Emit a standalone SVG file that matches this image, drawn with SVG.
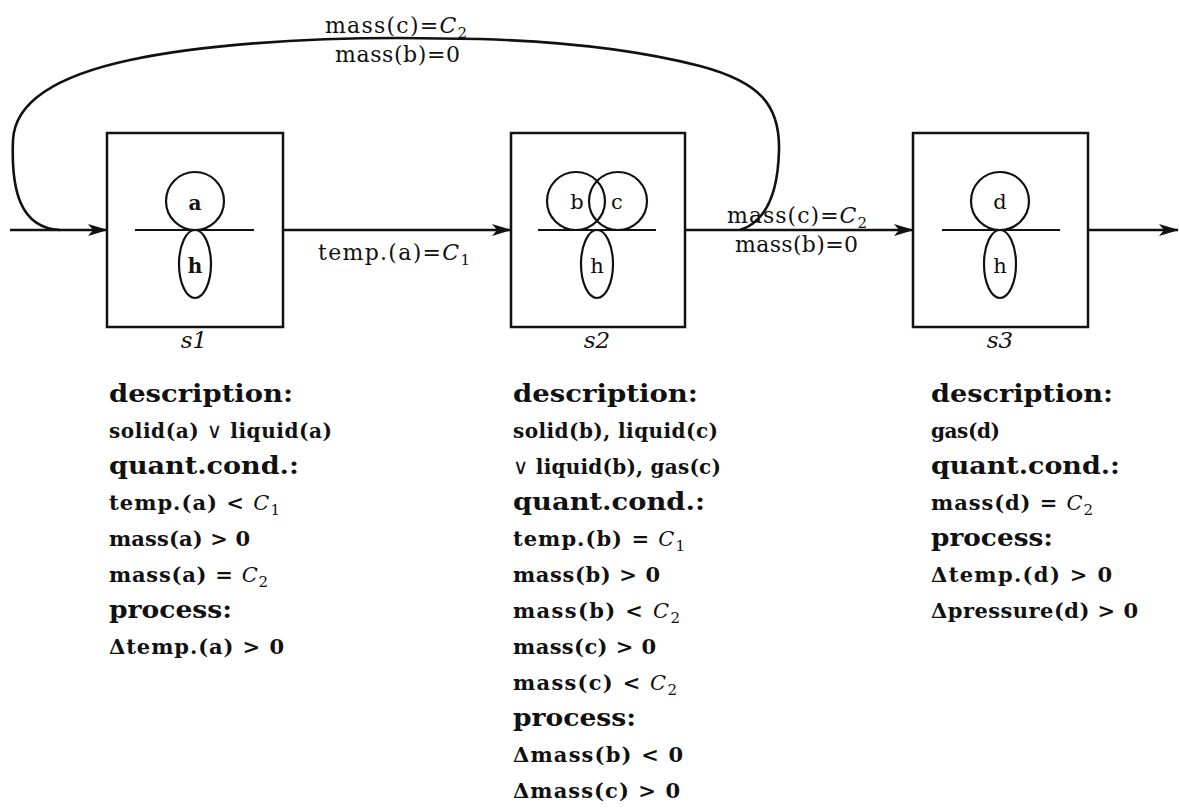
<svg xmlns="http://www.w3.org/2000/svg" width="1180" height="809" viewBox="0 0 1180 809">
<defs>
<marker id="arr" viewBox="0 0 20 12" refX="19" refY="6" markerWidth="20" markerHeight="12" markerUnits="userSpaceOnUse" orient="auto">
<path d="M0,0 L20,6 L0,12 L5,6 Z" fill="#111"/>
</marker>
<style>
.box{fill:none;stroke:#111;stroke-width:2.5}
.ln{fill:none;stroke:#111;stroke-width:2.6}
.sh{fill:none;stroke:#111;stroke-width:2.2}
.t{font-family:"DejaVu Serif","Liberation Serif",serif;fill:#111}
.lb{font-size:20px;font-weight:bold}
.lr{font-size:21px}
.sl{font-size:23px;font-style:italic}
.el{font-size:22px}
.hd{font-size:24px;font-weight:bold}
.ds{font-size:20px;font-weight:bold}
.cd{font-size:21px;font-weight:bold}
.c{font-style:italic;font-weight:normal}
.or{font-weight:normal;font-size:21px}
.sub{font-size:15px;font-weight:normal}
</style>
</defs>
<rect width="1180" height="809" fill="#fff"/>

<g id="connectors">
<line class="ln" x1="10" y1="230" x2="107" y2="230" marker-end="url(#arr)"/>
<line class="ln" x1="283" y1="230" x2="511" y2="230" marker-end="url(#arr)"/>
<line class="ln" x1="685" y1="230" x2="913" y2="230" marker-end="url(#arr)"/>
<line class="ln" x1="1088" y1="230" x2="1178" y2="230" marker-end="url(#arr)"/>
<path class="ln" d="M 740 230 C 765 222 778 195 779 150 C 780 105 760 82 700 66 C 650 53 580 42 480 39 L 400 38 C 300 38 200 45 130 60 C 60 75 15 100 13 140 C 11 190 20 228 60 230"/>
<text class="t el" x="325" y="33" textLength="142" lengthAdjust="spacing">mass(c)=<tspan class="c">C</tspan><tspan class="sub" dy="5">2</tspan></text>
<text class="t el" x="335" y="62" textLength="125" lengthAdjust="spacing">mass(b)=0</text>
<text class="t el" x="318" y="260" textLength="152" lengthAdjust="spacing">temp.(a)=<tspan class="c">C</tspan><tspan class="sub" dy="5">1</tspan></text>
<text class="t el" x="727" y="223" textLength="140" lengthAdjust="spacing">mass(c)=<tspan class="c">C</tspan><tspan class="sub" dy="5">2</tspan></text>
<text class="t el" x="735" y="252" textLength="123" lengthAdjust="spacing">mass(b)=0</text>
</g>

<g id="s1">
<rect class="box" x="107" y="133" width="176" height="194"/>
<line class="sh" x1="135" y1="230" x2="254" y2="230"/>
<circle class="sh" cx="195" cy="201" r="29"/>
<ellipse class="sh" cx="195" cy="264" rx="16" ry="34"/>
<text class="t lb" x="195" y="210" text-anchor="middle">a</text>
<text class="t lb" x="195" y="273" text-anchor="middle">h</text>
<text class="t sl" x="194" y="348" text-anchor="middle">s1</text>
</g>

<g id="s2">
<rect class="box" x="511" y="133" width="174" height="194"/>
<line class="sh" x1="538" y1="230" x2="656" y2="230"/>
<circle class="sh" cx="576" cy="201" r="29"/>
<circle class="sh" cx="618" cy="201" r="29"/>
<ellipse class="sh" cx="597" cy="264" rx="16" ry="34"/>
<text class="t lr" x="577" y="209" text-anchor="middle">b</text>
<text class="t lr" x="617" y="209" text-anchor="middle">c</text>
<text class="t lr" x="597" y="273" text-anchor="middle">h</text>
<text class="t sl" x="597" y="348" text-anchor="middle">s2</text>
</g>

<g id="s3">
<rect class="box" x="913" y="133" width="175" height="194"/>
<line class="sh" x1="942" y1="230" x2="1060" y2="230"/>
<circle class="sh" cx="1000" cy="201" r="29"/>
<ellipse class="sh" cx="1000" cy="264" rx="16" ry="34"/>
<text class="t lr" x="1000" y="209" text-anchor="middle">d</text>
<text class="t lr" x="1000" y="273" text-anchor="middle">h</text>
<text class="t sl" x="1000" y="348" text-anchor="middle">s3</text>
</g>

<g id="desc1">
<text class="t hd" x="109" y="402" textLength="184" lengthAdjust="spacingAndGlyphs">description:</text>
<text class="t ds" x="109" y="438" textLength="223" lengthAdjust="spacing">solid(a) <tspan class="or">∨</tspan> liquid(a)</text>
<text class="t hd" x="109" y="474" textLength="190" lengthAdjust="spacingAndGlyphs">quant.cond.:</text>
<text class="t cd" x="109" y="510" textLength="171" lengthAdjust="spacing">temp.(a) &lt; <tspan class="c">C</tspan><tspan class="sub" dy="5">1</tspan></text>
<text class="t cd" x="109" y="546" textLength="141" lengthAdjust="spacing">mass(a) &gt; 0</text>
<text class="t cd" x="109" y="582" textLength="159" lengthAdjust="spacing">mass(a) = <tspan class="c">C</tspan><tspan class="sub" dy="5">2</tspan></text>
<text class="t hd" x="109" y="618" textLength="123" lengthAdjust="spacingAndGlyphs">process:</text>
<text class="t cd" x="109" y="654" textLength="175" lengthAdjust="spacing">Δtemp.(a) &gt; 0</text>
</g>

<g id="desc2">
<text class="t hd" x="513" y="402" textLength="185" lengthAdjust="spacingAndGlyphs">description:</text>
<text class="t ds" x="513" y="438" textLength="205" lengthAdjust="spacing">solid(b), liquid(c)</text>
<text class="t ds" x="513" y="474" textLength="208" lengthAdjust="spacing"><tspan class="or">∨</tspan> liquid(b), gas(c)</text>
<text class="t hd" x="513" y="510" textLength="192" lengthAdjust="spacingAndGlyphs">quant.cond.:</text>
<text class="t cd" x="513" y="546" textLength="172" lengthAdjust="spacing">temp.(b) = <tspan class="c">C</tspan><tspan class="sub" dy="5">1</tspan></text>
<text class="t cd" x="513" y="582" textLength="147" lengthAdjust="spacing">mass(b) &gt; 0</text>
<text class="t cd" x="513" y="618" textLength="167" lengthAdjust="spacing">mass(b) &lt; <tspan class="c">C</tspan><tspan class="sub" dy="5">2</tspan></text>
<text class="t cd" x="513" y="654" textLength="143" lengthAdjust="spacing">mass(c) &gt; 0</text>
<text class="t cd" x="513" y="690" textLength="164" lengthAdjust="spacing">mass(c) &lt; <tspan class="c">C</tspan><tspan class="sub" dy="5">2</tspan></text>
<text class="t hd" x="513" y="726" textLength="123" lengthAdjust="spacingAndGlyphs">process:</text>
<text class="t cd" x="513" y="762" textLength="170" lengthAdjust="spacing">Δmass(b) &lt; 0</text>
<text class="t cd" x="513" y="798" textLength="167" lengthAdjust="spacing">Δmass(c) &gt; 0</text>
</g>

<g id="desc3">
<text class="t hd" x="931" y="402" textLength="182" lengthAdjust="spacingAndGlyphs">description:</text>
<text class="t ds" x="931" y="438" textLength="69" lengthAdjust="spacing">gas(d)</text>
<text class="t hd" x="931" y="474" textLength="189" lengthAdjust="spacingAndGlyphs">quant.cond.:</text>
<text class="t cd" x="931" y="510" textLength="162" lengthAdjust="spacing">mass(d) = <tspan class="c">C</tspan><tspan class="sub" dy="5">2</tspan></text>
<text class="t hd" x="931" y="546" textLength="122" lengthAdjust="spacingAndGlyphs">process:</text>
<text class="t cd" x="931" y="582" textLength="181" lengthAdjust="spacing">Δtemp.(d) &gt; 0</text>
<text class="t cd" x="931" y="618" textLength="207" lengthAdjust="spacing">Δpressure(d) &gt; 0</text>
</g>
</svg>
